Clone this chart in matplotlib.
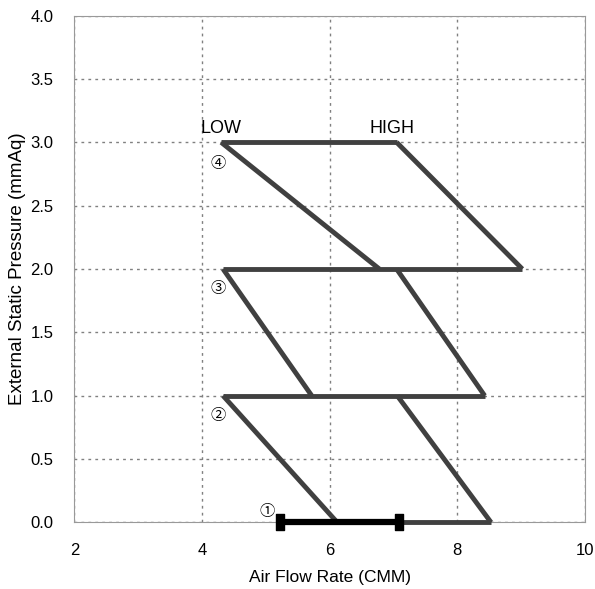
import matplotlib.pyplot as plt
from matplotlib.path import Path

plt.rcParams['font.family'] = ['Liberation Sans', 'Noto Sans CJK JP', 'DejaVu Sans']

# segments of the fan curves (air flow CMM, pressure mmAq)
tap4_low_x = [4.3, 6.78]
tap4_low_y = [3.0, 2.0]
tap4_high_x = [7.05, 9.02]
tap4_high_y = [3.0, 2.0]
tap4_level_x = [4.3, 7.05]
tap4_level_y = [3.0, 3.0]

tap3_low_x = [4.33, 5.72]
tap3_low_y = [2.0, 1.0]
tap3_high_x = [7.05, 8.43]
tap3_high_y = [2.0, 1.0]
tap3_level_x = [4.33, 9.02]
tap3_level_y = [2.0, 2.0]

tap2_low_x = [4.33, 6.12]
tap2_low_y = [1.0, 0.0]
tap2_high_x = [7.06, 8.53]
tap2_high_y = [1.0, 0.0]
tap2_level_x = [4.33, 8.43]
tap2_level_y = [1.0, 1.0]

tap1_level_x = [6.12, 8.53]
tap1_level_y = [0.0, 0.0]

tap1_x = [5.23, 7.08]
tap1_y = [0.0, 0.0]

labels = ['LOW', 'HIGH']
label_x = [3.98, 6.62]
tap_names = ['①', '②', '③', '④']
tap_x = [5.02, 4.26, 4.26, 4.26]
tap_y = [0.085, 0.84, 1.84, 2.83]

fig, ax = plt.subplots(figsize=(5.95, 5.89), dpi=100)
fig.subplots_adjust(left=0.125, right=0.983, top=0.9735, bottom=0.113)

line_col = '#404040'
lw = 3.5
for xs, ys in [(tap4_low_x, tap4_low_y), (tap4_high_x, tap4_high_y), (tap4_level_x, tap4_level_y),
               (tap3_low_x, tap3_low_y), (tap3_high_x, tap3_high_y), (tap3_level_x, tap3_level_y),
               (tap2_low_x, tap2_low_y), (tap2_high_x, tap2_high_y), (tap2_level_x, tap2_level_y),
               (tap1_level_x, tap1_level_y)]:
    ax.plot(xs, ys, color=line_col, lw=lw, solid_capstyle='butt', clip_on=False, zorder=3)

# tall rectangle marker for the end points
bar_marker = Path([(-1, -2), (1, -2), (1, 2), (-1, 2), (-1, -2)],
                  [Path.MOVETO, Path.LINETO, Path.LINETO, Path.LINETO, Path.CLOSEPOLY])
ax.plot(tap1_x, tap1_y, color='black', lw=4.5, marker=bar_marker, markersize=11,
        solid_capstyle='butt', clip_on=False, zorder=4)

for t, x in zip(labels, label_x):
    ax.text(x, 3.04, t, fontsize=13, ha='left', va='bottom')
for t, x, y in zip(tap_names, tap_x, tap_y):
    ax.text(x, y, t, fontsize=11, ha='center', va='center')

ax.set_xlim(2, 10)
ax.set_ylim(0, 4)
ax.set_xticks([2, 4, 6, 8, 10])
ax.set_yticks([0, 0.5, 1, 1.5, 2, 2.5, 3, 3.5, 4])
ax.set_yticklabels([f'{v:.1f}' for v in ax.get_yticks()])
ax.tick_params(length=0, labelsize=12)
ax.tick_params(axis='x', pad=15)
ax.tick_params(axis='y', pad=15)
ax.grid(True, linestyle=(0, (2, 3)), color='#808080', lw=1)
for s in ax.spines.values():
    s.set_color('#999999')
ax.set_xlabel('Air Flow Rate (CMM)', fontsize=12.5)
ax.set_ylabel('External Static Pressure (mmAq)', fontsize=13.5)
ax.xaxis.set_label_coords(0.5, -0.094)
ax.yaxis.set_label_coords(-0.095, 0.5)

plt.savefig('out.png')
